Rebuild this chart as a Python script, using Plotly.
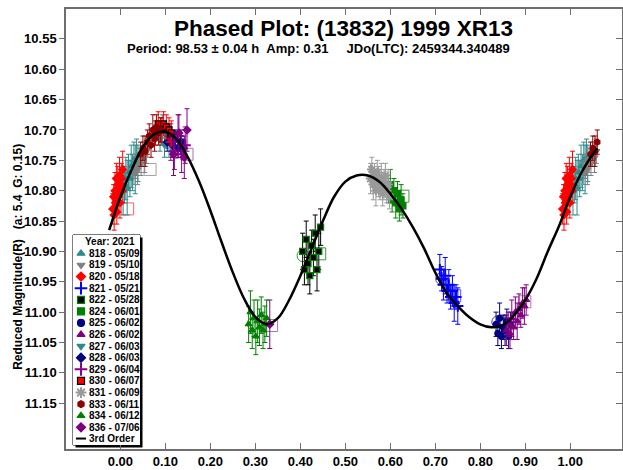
import plotly.graph_objects as go

# ---- per-session photometry (phase, reduced magnitude, error) ----
s818_phase = [0.006, 0.009, 0.012, 0.015, 0.018, 0.021, 0.024, 0.027, 0.030, 0.033, 0.036, 0.039]
s818_mag = [10.80, 10.79, 10.78, 10.795, 10.77, 10.78, 10.76, 10.77, 10.75, 10.765, 10.745, 10.755]
s818_err = [0.04, 0.03, 0.035, 0.045, 0.03, 0.03, 0.035, 0.03, 0.03, 0.04, 0.03, 0.03]

s819_phase = [0.030, 0.034, 0.038, 0.042, 0.046, 0.050, 0.054, 0.058]
s819_mag = [10.77, 10.76, 10.765, 10.75, 10.755, 10.74, 10.745, 10.735]
s819_err = [0.02, 0.02, 0.025, 0.02, 0.02, 0.02, 0.025, 0.02]

s820_phase = [0.983, 0.985, 0.986, 0.988, 0.989, 0.991, 0.992, 0.994, 0.995, 0.997, 0.998, 0.999, 0.001, 0.002, 0.004, 0.005]
s820_mag = [10.83, 10.81, 10.84, 10.80, 10.82, 10.78, 10.835, 10.79, 10.81, 10.80, 10.775, 10.82, 10.79, 10.78, 10.80, 10.765]
s820_err = [0.025, 0.02, 0.025, 0.03, 0.02, 0.025, 0.02, 0.03, 0.025, 0.02, 0.03, 0.025, 0.02, 0.025, 0.02, 0.03]

s821_phase = [0.710, 0.714, 0.718, 0.722, 0.726, 0.730, 0.734, 0.738, 0.742, 0.746, 0.750]
s821_mag = [10.93, 10.945, 10.955, 10.94, 10.965, 10.955, 10.975, 10.965, 10.985, 10.975, 10.99]
s821_err = [0.025, 0.02, 0.025, 0.03, 0.02, 0.025, 0.02, 0.025, 0.03, 0.02, 0.03]

s822_phase = [0.405, 0.409, 0.413, 0.417, 0.421, 0.425, 0.429, 0.433, 0.437, 0.441, 0.445]
s822_mag = [10.90, 10.93, 10.88, 10.92, 10.94, 10.89, 10.91, 10.87, 10.93, 10.90, 10.86]
s822_err = [0.03, 0.025, 0.03, 0.035, 0.03, 0.025, 0.03, 0.03, 0.035, 0.03, 0.03]

s824_phase = [0.596, 0.600, 0.604, 0.608, 0.612, 0.616, 0.620, 0.624, 0.628]
s824_mag = [10.80, 10.79, 10.815, 10.80, 10.82, 10.805, 10.83, 10.815, 10.825]
s824_err = [0.02, 0.025, 0.02, 0.02, 0.025, 0.02, 0.02, 0.025, 0.02]

s825_phase = [0.835, 0.839, 0.843, 0.847, 0.851, 0.855, 0.859, 0.863, 0.867]
s825_mag = [11.02, 11.035, 11.01, 11.04, 11.025, 11.03, 11.015, 11.04, 11.02]
s825_err = [0.02, 0.02, 0.025, 0.02, 0.02, 0.025, 0.02, 0.02, 0.02]

s826_phase = [0.858, 0.862, 0.866, 0.870, 0.874, 0.878, 0.882, 0.886, 0.890, 0.894, 0.898, 0.902]
s826_mag = [11.03, 11.02, 11.035, 11.01, 11.025, 11.00, 11.015, 10.995, 11.005, 10.985, 10.99, 10.98]
s826_err = [0.025, 0.02, 0.025, 0.03, 0.02, 0.025, 0.03, 0.025, 0.02, 0.025, 0.03, 0.025]

s827_phase = [0.088, 0.093, 0.098, 0.103, 0.108]
s827_mag = [10.715, 10.70, 10.725, 10.71, 10.72]
s827_err = [0.02, 0.025, 0.02, 0.02, 0.025]

s828_phase = [0.104, 0.110, 0.116, 0.122, 0.128, 0.134, 0.140]
s828_mag = [10.72, 10.71, 10.725, 10.715, 10.73, 10.72, 10.73]
s828_err = [0.015, 0.015, 0.02, 0.015, 0.015, 0.02, 0.015]

s829_phase = [0.112, 0.120, 0.128, 0.136, 0.144]
s829_mag = [10.72, 10.735, 10.71, 10.74, 10.725]
s829_err = [0.03, 0.03, 0.035, 0.03, 0.03]

s830_phase = [0.078, 0.084, 0.090, 0.096, 0.102, 0.108, 0.113]
s830_mag = [10.705, 10.69, 10.70, 10.69, 10.695, 10.70, 10.705]
s830_err = [0.02, 0.02, 0.02, 0.02, 0.02, 0.02, 0.02]

s831_phase = [0.556, 0.559, 0.562, 0.565, 0.568, 0.571, 0.574, 0.577, 0.580, 0.583, 0.586, 0.589, 0.592, 0.595, 0.598]
s831_mag = [10.78, 10.765, 10.79, 10.775, 10.80, 10.77, 10.785, 10.795, 10.78, 10.805, 10.79, 10.775, 10.80, 10.79, 10.81]
s831_err = [0.025, 0.02, 0.025, 0.02, 0.025, 0.02, 0.025, 0.02, 0.025, 0.02, 0.025, 0.02, 0.02, 0.025, 0.02]

s833_phase = [0.045, 0.050, 0.055, 0.060, 0.064, 0.068, 0.072, 0.076, 0.080, 0.085, 0.090]
s833_mag = [10.74, 10.73, 10.735, 10.72, 10.71, 10.725, 10.70, 10.715, 10.695, 10.705, 10.70]
s833_err = [0.02, 0.02, 0.025, 0.02, 0.02, 0.02, 0.025, 0.02, 0.02, 0.02, 0.02]

s834_phase = [0.285, 0.289, 0.293, 0.297, 0.301, 0.305, 0.309, 0.313, 0.317, 0.321, 0.325]
s834_mag = [11.02, 11.00, 11.03, 11.01, 11.04, 11.015, 11.025, 11.005, 11.03, 11.02, 11.01]
s834_err = [0.03, 0.035, 0.03, 0.03, 0.03, 0.035, 0.03, 0.03, 0.03, 0.03, 0.03]

s836_phase = [0.118, 0.130, 0.142, 0.148, 0.332]
s836_mag = [10.74, 10.705, 10.745, 10.70, 11.02]
s836_err = [0.035, 0.03, 0.035, 0.035, 0.04]

# ---- session averages, drawn as large open markers ----
avg_phase = [0.016, 0.066, 0.125, 0.148, 0.295, 0.336, 0.406, 0.443, 0.628, 0.714, 0.743, 0.839, 0.858, 0.899]
avg_mag = [10.83, 10.765, 10.737, 10.74, 11.019, 11.022, 10.907, 10.904, 10.809, 10.945, 10.973, 11.016, 11.019, 10.983]
avg_symbol = ["square", "square", "circle", "square", "circle", "square", "circle", "square", "square",
              "circle", "square", "circle", "circle", "square"]
avg_color = ["#FF6060", "#A0A0A0", "#9A4D9A", "#B070B0", "#3C9A3C", "#B070B0", "#3C9A3C", "#3C9A3C", "#3C9A3C",
             "#5050FF", "#5050FF", "#4040A0", "#9A4D9A", "#B070B0"]

# ---- 3rd order Fourier fit, sampled along phase ----
fit_phase = [-0.025, 0.0, 0.025, 0.05, 0.075, 0.10, 0.125, 0.15, 0.175, 0.20, 0.225, 0.25,
             0.275, 0.30, 0.325, 0.35, 0.375, 0.40, 0.425, 0.45, 0.475, 0.50, 0.525, 0.55,
             0.575, 0.60, 0.625, 0.65, 0.675, 0.70, 0.725, 0.75, 0.775, 0.80, 0.825, 0.85,
             0.875, 0.90, 0.925, 0.95, 0.975, 1.0, 1.025, 1.05, 1.06]
fit_mag = [10.865, 10.81, 10.765, 10.728, 10.707, 10.703, 10.715, 10.745, 10.785, 10.833, 10.885, 10.935,
           10.978, 11.008, 11.02, 11.01, 10.98, 10.94, 10.895, 10.85, 10.81, 10.785, 10.775, 10.775,
           10.785, 10.805, 10.83, 10.86, 10.895, 10.935, 10.968, 10.99, 11.008, 11.02, 11.025, 11.022,
           11.005, 10.98, 10.945, 10.90, 10.858, 10.81, 10.77, 10.74, 10.73]

x_ticks = [0.0, 0.1, 0.2, 0.3, 0.4, 0.5, 0.6, 0.7, 0.8, 0.9, 1.0]
y_ticks = [10.55, 10.60, 10.65, 10.70, 10.75, 10.80, 10.85, 10.90, 10.95, 11.00, 11.05, 11.10, 11.15]

sessions = [
    ("818 - 05/09", s818_phase, s818_mag, s818_err),
    ("819 - 05/10", s819_phase, s819_mag, s819_err),
    ("820 - 05/18", s820_phase, s820_mag, s820_err),
    ("821 - 05/21", s821_phase, s821_mag, s821_err),
    ("822 - 05/28", s822_phase, s822_mag, s822_err),
    ("824 - 06/01", s824_phase, s824_mag, s824_err),
    ("825 - 06/02", s825_phase, s825_mag, s825_err),
    ("826 - 06/02", s826_phase, s826_mag, s826_err),
    ("827 - 06/03", s827_phase, s827_mag, s827_err),
    ("828 - 06/03", s828_phase, s828_mag, s828_err),
    ("829 - 06/04", s829_phase, s829_mag, s829_err),
    ("830 - 06/07", s830_phase, s830_mag, s830_err),
    ("831 - 06/09", s831_phase, s831_mag, s831_err),
    ("833 - 06/11", s833_phase, s833_mag, s833_err),
    ("834 - 06/12", s834_phase, s834_mag, s834_err),
    ("836 - 07/06", s836_phase, s836_mag, s836_err),
]

# marker style per session: symbol, fill colour, outline colour, bar colour
styles = {
    "818 - 05/09": ("triangle-up", "#2E8B8B", "#2E8B8B", "#2E8B8B"),
    "819 - 05/10": ("triangle-down", "#808080", "#808080", "#808080"),
    "820 - 05/18": ("diamond", "#FF0000", "#FF0000", "#FF0000"),
    "821 - 05/21": ("cross-thin", "#0000FF", "#0000FF", "#0000FF"),
    "822 - 05/28": ("square", "#000000", "#008000", "#000000"),
    "824 - 06/01": ("square", "#008000", "#008000", "#008000"),
    "825 - 06/02": ("circle", "#000080", "#000080", "#000080"),
    "826 - 06/02": ("triangle-up", "#800080", "#800080", "#800080"),
    "827 - 06/03": ("triangle-down", "#2E8B8B", "#2E8B8B", "#2E8B8B"),
    "828 - 06/03": ("diamond", "#000080", "#000080", "#000080"),
    "829 - 06/04": ("cross-thin", "#8B008B", "#8B008B", "#8B008B"),
    "830 - 06/07": ("square", "#FF0000", "#000000", "#FF0000"),
    "831 - 06/09": ("asterisk", "#999999", "#999999", "#999999"),
    "833 - 06/11": ("hexagon", "#8B0000", "#8B0000", "#8B0000"),
    "834 - 06/12": ("triangle-up", "#008000", "#008000", "#008000"),
    "836 - 07/06": ("diamond", "#800080", "#800080", "#800080"),
}

FONT = "Liberation Sans, Arial, sans-serif"
W, H = 623, 470
PL, PR, PT, PB = 66, 622, 9, 451  # plot-area edges in pixels


def px_x(px):
    return (px - PL) / (PR - PL)


def px_y(py):
    return (PB - py) / (PB - PT)


def wrap(ph, mg, er):
    """Repeat points near phase 0/1 on the other side of the cycle."""
    p, m, e = list(ph), list(mg), list(er)
    for a, b, c in zip(ph, mg, er):
        if a < 0.062:
            p.append(a + 1.0); m.append(b); e.append(c)
        elif a > 0.975:
            p.append(a - 1.0); m.append(b); e.append(c)
    return p, m, e


def marker_for(sym, fill, line, size):
    if sym in ("cross-thin", "asterisk"):
        return dict(symbol=sym + "-open", size=size + 2, color=fill,
                    line=dict(color=fill, width=2))
    return dict(symbol=sym, size=size, color=fill, line=dict(color=line, width=1.2))


fig = go.Figure()

fig.add_trace(go.Scatter(
    x=avg_phase, y=avg_mag, mode="markers", showlegend=False,
    marker=dict(symbol=[s + "-open" for s in avg_symbol], size=12, color=avg_color,
                line=dict(color=avg_color, width=1)),
))

for name, ph, mg, er in sessions:
    sym, fill, line, bar = styles[name]
    p, m, e = wrap(ph, mg, er)
    fig.add_trace(go.Scatter(
        x=p, y=m, mode="markers", showlegend=False,
        marker=marker_for(sym, fill, line, 6),
        error_y=dict(type="data", array=e, visible=True, color=bar, thickness=1, width=2.5),
    ))

fig.add_trace(go.Scatter(
    x=fit_phase, y=fit_mag, mode="lines", showlegend=False,
    line=dict(color="black", width=2.5, shape="spline", smoothing=1.0),
))

# placeholder trace so the right-hand mirror axis is drawn
fig.add_trace(go.Scatter(x=[None], y=[None], yaxis="y2", showlegend=False))

# ---- key box drawn on its own small axes ----
KX0, KX1, KY0, KY1 = 73, 140, 236, 447
row_y = [18.5 + 11.65 * i for i in range(len(sessions))]
for (name, _, _, _), ry in zip(sessions, row_y):
    sym, fill, line, bar = styles[name]
    fig.add_trace(go.Scatter(
        x=[8], y=[ry], mode="markers", xaxis="x3", yaxis="y3", showlegend=False,
        marker=marker_for(sym, fill, line, 7),
    ))
fit_row = 204.5
fig.add_trace(go.Scatter(
    x=[3, 13], y=[fit_row, fit_row], mode="lines", xaxis="x3", yaxis="y3",
    showlegend=False, line=dict(color="black", width=2),
))

annotations = []
annotations.append(dict(x=64, y=7, xref="x3", yref="y3", text="Year: 2021", showarrow=False,
                        xanchor="right", yanchor="middle",
                        font=dict(family=FONT, size=10, color="black", weight="bold")))
for (name, _, _, _), ry in zip(sessions, row_y):
    annotations.append(dict(x=14, y=ry, xref="x3", yref="y3", text=name, showarrow=False,
                            xanchor="left", yanchor="middle",
                            font=dict(family=FONT, size=10, color="black", weight="bold")))
annotations.append(dict(x=14, y=fit_row, xref="x3", yref="y3", text="3rd Order", showarrow=False,
                        xanchor="left", yanchor="middle",
                        font=dict(family=FONT, size=10, color="black", weight="bold")))

# titles
annotations.append(dict(x=px_x(343), y=px_y(29), xref="paper", yref="paper",
                        text="Phased Plot: (13832) 1999 XR13", showarrow=False,
                        xanchor="center", yanchor="middle",
                        font=dict(family=FONT, size=22.5, color="black", weight="bold")))
annotations.append(dict(x=px_x(318), y=px_y(49), xref="paper", yref="paper",
                        text="Period: 98.53 ± 0.04 h\u00a0\u00a0Amp: 0.31\u00a0\u00a0\u00a0\u00a0\u00a0JDo(LTC): 2459344.340489",
                        showarrow=False, xanchor="center", yanchor="middle",
                        font=dict(family=FONT, size=13, color="black", weight="bold")))
annotations.append(dict(x=px_x(18), y=px_y(258), xref="paper", yref="paper",
                        text="Reduced Magnitude(R)\u00a0\u00a0\u00a0(a: 5.4\u00a0\u00a0G: 0.15)",
                        textangle=-90, showarrow=False, xanchor="center", yanchor="middle",
                        font=dict(family=FONT, size=12, color="black", weight="bold")))

shapes = [
    dict(type="rect", xref="paper", yref="paper", layer="below",
         x0=px_x(KX0 + 2.5), x1=px_x(KX1 + 2.5), y0=px_y(KY1 + 2.5), y1=px_y(KY0 + 2.5),
         fillcolor="black", line=dict(width=0)),
    dict(type="rect", xref="paper", yref="paper", layer="below",
         x0=px_x(KX0), x1=px_x(KX1), y0=px_y(KY1), y1=px_y(KY0),
         fillcolor="white", line=dict(color="black", width=1)),
]

YR = [11.2254, 10.5008]
XR = [-0.121, 1.115]
AXC = "#6E6E6E"
tickfont = dict(family=FONT, size=13, color="black", weight="bold")

fig.update_layout(
    width=W, height=H,
    margin=dict(l=PL, r=W - PR, t=PT, b=H - PB, pad=0),
    paper_bgcolor="white", plot_bgcolor="white",
    showlegend=False,
    annotations=annotations,
    shapes=shapes,
    xaxis=dict(range=XR, tickvals=x_ticks, ticktext=[f"{v:.2f}" for v in x_ticks],
               ticks="inside", ticklen=6, tickcolor=AXC, tickwidth=1,
               showline=True, linecolor=AXC, linewidth=1.5, mirror="ticks",
               showgrid=False, zeroline=False, tickfont=tickfont),
    yaxis=dict(range=YR, tickvals=y_ticks, ticktext=[f"{v:.2f}" for v in y_ticks],
               ticks="outside", ticklen=5, tickcolor=AXC, tickwidth=1,
               showline=True, linecolor=AXC, linewidth=1.5, mirror=False,
               showgrid=False, zeroline=False, tickfont=tickfont),
    yaxis2=dict(range=YR, tickvals=y_ticks, overlaying="y", side="right", anchor="x",
                ticks="inside", ticklen=6, tickcolor=AXC, tickwidth=1,
                showline=True, linecolor=AXC, linewidth=1.5,
                showticklabels=False, showgrid=False, zeroline=False),
    xaxis3=dict(domain=[px_x(KX0), px_x(KX1)], range=[0, KX1 - KX0], anchor="y3",
                visible=False, fixedrange=True),
    yaxis3=dict(domain=[px_y(KY1), px_y(KY0)], range=[KY1 - KY0, 0], anchor="x3",
                visible=False, fixedrange=True),
)

fig.write_html("out.html")
